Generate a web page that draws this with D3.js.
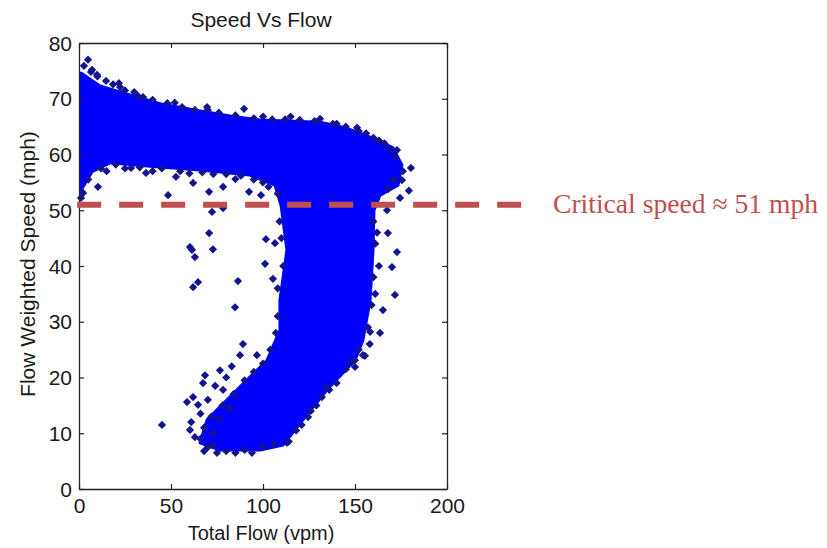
<!DOCTYPE html>
<html>
<head>
<meta charset="utf-8">
<script src="https://cdn.jsdelivr.net/npm/d3@7"></script>
<style>
  html, body { margin: 0; padding: 0; background: #ffffff; }
  svg { display: block; }
</style>
</head>
<body>
<svg id="chart" width="827" height="548"></svg>
<script>
// ---------- data ----------
const xTicks = [0, 50, 100, 150, 200];
const yTicks = [0, 10, 20, 30, 40, 50, 60, 70, 80];
const titleText = "Speed Vs Flow";
const xLabelText = "Total Flow (vpm)";
const yLabelText = "Flow Weighted Speed (mph)";
const criticalSpeed = 51;
const criticalLabel = "Critical speed \u2248 51 mph";

// outline of the densely packed part of the cloud [flow, speed]
const denseCloudOutline = [
  [1.1, 74.6], [11.4, 72.3], [27.7, 70.7], [44.0, 69.1], [65.8, 67.8], [82.1, 66.9],
  [98.4, 66.2], [131, 65.8], [144.6, 64.8], [158.2, 63.1], [170.7, 61.2], [175.5, 58.1],
  [173.4, 54.5], [163.6, 52.7], [160.3, 50.0], [159.8, 42.9], [158.2, 33.9], [154.3, 26.7],
  [150, 23.1], [134.8, 17.8], [121.7, 12.4], [110.9, 7.9], [98.4, 7.0], [76.6, 7.0],
  [65.8, 8.3], [69.6, 12.4], [85.9, 17.8], [102.2, 23.1], [109.2, 28.5], [109.2, 33.9],
  [113, 42.9], [109.8, 50.9], [106.5, 54.5], [92.9, 56.3], [65.8, 57.2], [38.6, 57.9],
  [16.8, 58.5], [7.1, 56.9], [1.1, 53.6]
];

// free-flow branch: individual points around the band
const freeFlowPoints = [
  [4.9, 77.0], [2.7, 75.9], [6.5, 74.8], [7.1, 75.2], [9.8, 74.3], [14.7, 73.2], [18.5, 72.6],
  [21.7, 72.8], [22.3, 72.1], [34.8, 70.3], [69.6, 68.5], [89.7, 68.2], [131, 66.4],
  [151.1, 64.8], [172.8, 60.8], [180.4, 57.6], [179.3, 53.5], [175.5, 55.4], [174.5, 52.2],
  [25, 71.5], [32, 70.5], [40, 69.8], [48, 69.2], [56, 68.5], [63, 68], [76, 67.5], [85, 67],
  [95, 66.5], [105, 66.3], [112, 66.3], [120, 66.2], [128, 66], [138, 65.5], [145, 65],
  [152, 64.2], [160, 63], [166, 62], [172, 59.5], [176, 57], [171, 55.5], [168, 53.8],
  [10, 74], [30, 71.2], [52, 69.3], [70, 68], [100, 66.8], [115, 66.8], [140, 65.5],
  [156, 63.8], [163, 62.5], [169, 61],
  [48.4, 52.7], [70.7, 53.3], [62, 54.9], [52.7, 56], [36.4, 56.7], [28.3, 57.6], [10.3, 54.2],
  [2.2, 53.1], [78.3, 54.2], [92.4, 53.3], [98.9, 52.7], [1.1, 52.2], [5, 55.5], [12, 57.5],
  [20, 58.2], [45, 57.5], [55, 57], [67, 56.8], [80, 56.5], [88, 56.2], [100, 55],
  [15, 57], [25, 57.5], [33, 57.7], [40, 57], [60, 56.6], [73, 56.5], [85, 55.6], [95, 55.5],
  [103, 54.2]
];

// scattered points between the two branches
const transitionPoints = [
  [72.3, 49.7], [70.7, 45.9], [60.3, 43.4], [63, 41.6], [72.8, 43], [64.7, 37.1], [62, 36.2],
  [86.4, 37.3], [84.8, 32.6], [101.6, 44.8], [106.5, 44.1], [101.1, 40.4], [105.4, 37.7],
  [89.1, 26.0], [78.3, 50.4], [61.4, 42.9], [45.1, 11.5]
];

// congested branch: individual points around the dense part
const congestedPoints = [
  [167.4, 50], [172.8, 42.5], [171.7, 34.8], [163.6, 28], [167.9, 45.9], [170.1, 39.8],
  [165.2, 32.1], [87.5, 24], [76.6, 21.3], [68.5, 20.4], [67.4, 19], [78.3, 17.8], [62, 16.5],
  [58.7, 15.6], [64.7, 15.1], [60.3, 10.6], [63, 9.3], [72.8, 7.9], [113, 8.3], [124.5, 12.9],
  [134.8, 18.3], [150, 23.1], [154.3, 24], [96.7, 24], [155.4, 23.9], [158.2, 28.2],
  [150, 21.9], [108, 53], [109, 48], [110, 45], [111, 40], [108, 36], [108, 31], [107, 28],
  [104, 25], [100, 22.5], [95, 21], [90, 19.5], [84, 17], [78, 15], [72, 13], [68, 11],
  [66, 9], [160, 48], [161, 44], [160, 38], [159, 33], [157, 29], [152, 25], [145, 21.5],
  [140, 19], [132, 16.5], [126, 14], [118, 10.5], [114, 8.5], [70, 7.5], [80, 6.8], [90, 7],
  [100, 7.5], [106, 8],
  [70, 16], [74, 18.5], [80, 20], [83, 22], [73, 10], [76, 12.5], [82, 14.5], [61, 12],
  [66, 13.5], [68, 6.8], [75, 6.5], [85, 6.5], [94, 6.5],
  [162, 46], [163, 40], [161, 35], [158, 26], [148, 22.8], [136, 17.8], [129, 15], [121, 11.5]
];

// ---------- drawing ----------
const svg = d3.select("#chart");
const W = 827, H = 548;
svg.append("rect").attr("width", W).attr("height", H).attr("fill", "#ffffff");

const plot = { left: 79, right: 447, top: 43, bottom: 489 };
const x = d3.scaleLinear().domain([0, 200]).range([plot.left, plot.right]);
const y = d3.scaleLinear().domain([0, 80]).range([plot.bottom, plot.top]);

const font = "'Liberation Sans', Arial, Helvetica, sans-serif";
const axisColor = "#222222";

// dense core
svg.append("path")
  .datum(denseCloudOutline)
  .attr("d", d3.line().x(d => x(d[0])).y(d => y(d[1])).curve(d3.curveLinearClosed))
  .attr("fill", "#0000ff")
  .attr("stroke", "#0000ff")
  .attr("stroke-width", 3)
  .attr("stroke-linejoin", "round");

// individual diamonds
const diamond = d3.symbol().type(d3.symbolSquare).size(34);
const allPoints = freeFlowPoints.concat(transitionPoints, congestedPoints);
svg.append("g").selectAll("path")
  .data(allPoints)
  .join("path")
  .attr("d", diamond)
  .attr("transform", d => `translate(${x(d[0])},${y(d[1])}) rotate(45)`)
  .attr("fill", "#14148e");

// axes frame with inward ticks on all sides
const tickLen = 5;

const axB = d3.axisBottom(x).tickValues(xTicks).tickSizeInner(-tickLen).tickSizeOuter(0).tickPadding(9);
const axT = d3.axisTop(x).tickValues(xTicks).tickSizeInner(-tickLen).tickSizeOuter(0).tickFormat("");
const axL = d3.axisLeft(y).tickValues(yTicks).tickSizeInner(-tickLen).tickSizeOuter(0).tickPadding(7);
const axR = d3.axisRight(y).tickValues(yTicks).tickSizeInner(-tickLen).tickSizeOuter(0).tickFormat("");

function styleAxis(g) {
  g.selectAll(".domain").attr("stroke", axisColor).attr("stroke-width", 1.3);
  g.selectAll(".tick line").attr("stroke", axisColor).attr("stroke-width", 1.2);
  g.selectAll(".tick text").attr("fill", "#1a1a1a").attr("font-family", font).attr("font-size", 21);
}
svg.append("g").attr("transform", `translate(0,${plot.bottom})`).call(axB).call(styleAxis)
  .selectAll(".tick text").attr("dy", "0.71em");
svg.append("g").attr("transform", `translate(0,${plot.top})`).call(axT).call(styleAxis);
svg.append("g").attr("transform", `translate(${plot.left},0)`).call(axL).call(styleAxis)
  .selectAll(".tick text").attr("dy", "0.34em");
svg.append("g").attr("transform", `translate(${plot.right},0)`).call(axR).call(styleAxis);

// critical speed dashed line
svg.append("line")
  .attr("x1", x(-1)).attr("x2", 522)
  .attr("y1", y(criticalSpeed)).attr("y2", y(criticalSpeed))
  .attr("stroke", "#c0504d")
  .attr("stroke-width", 6)
  .attr("stroke-dasharray", "24 18");

svg.append("text")
  .attr("x", 553).attr("y", y(criticalSpeed) + 8)
  .attr("font-family", "'Liberation Serif', 'Times New Roman', serif")
  .attr("font-size", 27)
  .attr("fill", "#c0504d")
  .attr("textLength", 265)
  .attr("lengthAdjust", "spacingAndGlyphs")
  .text(criticalLabel);

// title and axis labels
svg.append("text")
  .attr("x", 261).attr("y", 27)
  .attr("text-anchor", "middle")
  .attr("font-family", font).attr("font-size", 21).attr("fill", "#1a1a1a")
  .text(titleText);

svg.append("text")
  .attr("x", 261).attr("y", 540)
  .attr("text-anchor", "middle")
  .attr("font-family", font).attr("font-size", 20).attr("fill", "#1a1a1a")
  .text(xLabelText);

svg.append("text")
  .attr("transform", `translate(35,${(plot.top + plot.bottom) / 2 - 2}) rotate(-90)`)
  .attr("text-anchor", "middle")
  .attr("font-family", font).attr("font-size", 21).attr("fill", "#1a1a1a")
  .text(yLabelText);
</script>
</body>
</html>
